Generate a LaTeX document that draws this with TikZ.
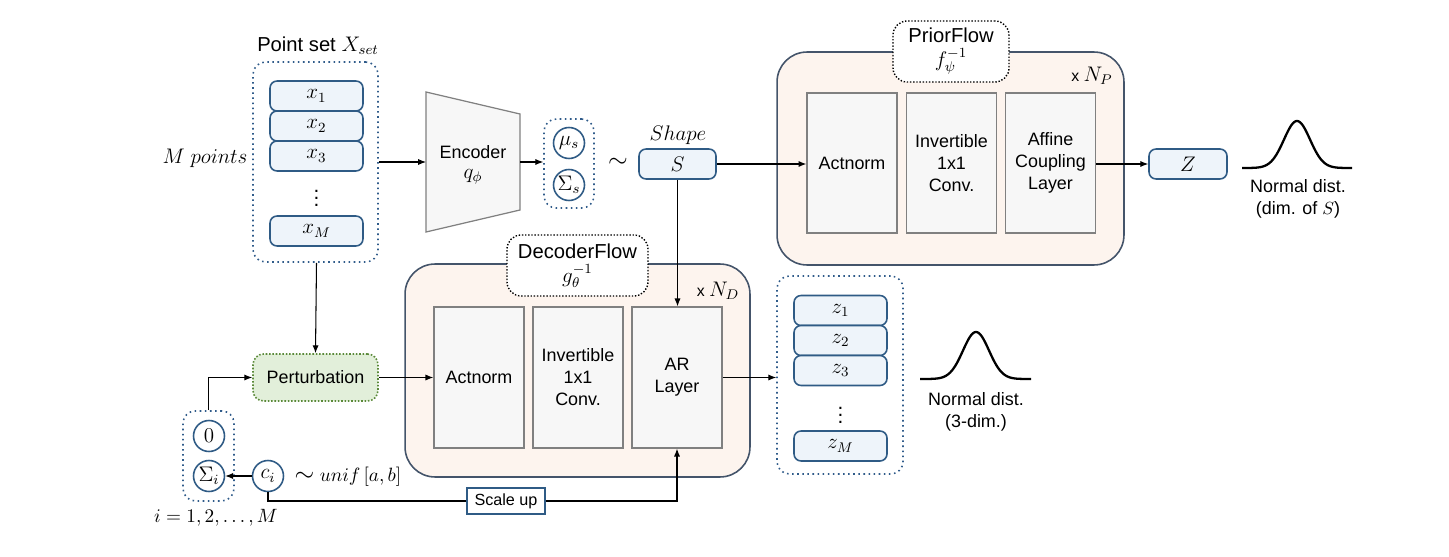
\documentclass[tikz,border=0pt]{standalone}
\usepackage{fontspec}
\setmainfont{Liberation Sans}
\usetikzlibrary{arrows.meta,calc}

\definecolor{boxblue}{HTML}{2F5B85}
\definecolor{boxfill}{HTML}{EEF4FA}
\definecolor{dotblue}{HTML}{2F5B8A}
\definecolor{flowedge}{HTML}{44546A}
\definecolor{flowfill}{HTML}{FDF4EE}
\definecolor{layeredge}{HTML}{808080}
\definecolor{layerfill}{HTML}{F7F7F7}
\definecolor{pertfill}{HTML}{E2EFDA}
\definecolor{pertedge}{HTML}{5B8A3A}

\newcommand\diagfont{\fontsize{10.2pt}{12.5pt}\selectfont}
\newcommand\tagfont{\fontsize{11.5pt}{14.5pt}\selectfont}
\newcommand\symfont{\fontsize{11.8pt}{13pt}\selectfont}

\tikzset{
    vecbox/.style={draw=boxblue, fill=boxfill, rounded corners=4pt, line width=0.9pt,
        minimum width=1.86cm, minimum height=0.6cm, inner sep=0pt, font=\symfont},
    varcirc/.style={circle, draw=boxblue, line width=0.9pt, minimum size=0.62cm, inner sep=0pt,
        font=\symfont},
    dotbox/.style={draw=dotblue, dotted, line width=0.9pt, rounded corners=7pt, inner sep=0pt},
    flowbox/.style={draw=flowedge, fill=flowfill, line width=0.9pt, rounded corners=0.6cm,
        minimum height=4.26cm, inner sep=0pt},
    layerbox/.style={draw=layeredge, fill=layerfill, line width=0.7pt, align=center,
        minimum width=1.8cm, minimum height=2.82cm, inner sep=0pt},
    flowtag/.style={draw, densely dotted, fill=white, rounded corners=8pt, line width=0.8pt,
        align=center, minimum height=1.22cm, inner sep=0pt, font=\tagfont},
    arr/.style={-{Latex[length=4.5pt,width=3.5pt]}, line width=0.6pt},
    gauss/.style={line width=1.3pt},
}

\begin{document}
\begin{tikzpicture}[x=0.02cm, y=-0.02cm, every node/.append style={font=\diagfont}]
    \useasboundingbox (0,0) rectangle (1449,557);

    % point set
    \node[font=\tagfont] (xtitle) at (318,46) {Point set {\symfont$X_{set}$}};
    \node[dotbox, minimum width=2.5cm, minimum height=4cm] (xset) at (315.5,162) {};
    \node[vecbox] (x1) at (316.5,96) {$x_1$};
    \node[vecbox] (x2) at (316.5,126) {$x_2$};
    \node[vecbox] (x3) at (316.5,156) {$x_3$};
    \node[inner sep=0pt, font=\symfont] (xdots) at (316.5,193) {$\vdots$};
    \node[vecbox] (xM) at (316.5,231) {$x_M$};
    \node[font=\symfont] (mpts) at (205,158) {$M\ points$};

    % encoder
    \draw[draw=layeredge, fill=layerfill, line width=0.7pt]
        (426,92) -- (520,114) -- (520,210) -- (426,232) -- cycle;
    \coordinate (enc-w) at (426,162);
    \coordinate (enc-e) at (520,162);
    \node (enc) at (473,152) {Encoder};
    \node[font=\symfont] (qphi) at (473,177) {$q_{\phi}$};

    \node[dotbox, minimum width=1cm, minimum height=1.78cm] (musig) at (569,163.5) {};
    \node[varcirc] (mus) at (569,143) {$\mu_s$};
    \node[varcirc] (sigs) at (569,185) {$\Sigma_s$};
    \node (tilde) at (618,163) {\Large$\sim$};

    \node[font=\symfont] (shape) at (678,135) {$Shape$};
    \node[vecbox, minimum width=1.54cm] (S) at (677.5,164) {$S$};

    % prior flow
    \node[flowbox, minimum width=6.94cm] (prior) at (950.5,158.5) {};
    \node[flowtag, minimum width=2.32cm] (priortag) at (951,51.5) {PriorFlow\\[-1pt]{\symfont$f_{\psi}^{-1}$}};
    \node[font=\fontsize{9pt}{10pt}\selectfont] (np) at (1092,76) {x {\symfont$N_P$}};
    \node[layerbox, minimum height=2.8cm] (pa) at (852,163) {Actnorm};
    \node[layerbox, minimum height=2.8cm] (pb) at (951.5,163) {Invertible\\1x1\\Conv.};
    \node[layerbox, minimum height=2.8cm] (pc) at (1050.5,163) {Affine\\Coupling\\Layer};
    \node[vecbox, minimum width=1.56cm] (Z) at (1188,164) {$Z$};
    \draw[gauss] plot[domain=1242:1352, samples=90] (\x, {168-47*exp(-((\x-1297)/13)^2/2)});
    \node[align=center] (normS) at (1298,199) {Normal dist.\\(dim. of $S$)};

    % decoder flow
    \node[flowbox, minimum width=6.9cm] (dec) at (577.5,370.5) {};
    \node[flowtag, minimum width=2.82cm] (dectag) at (577.5,265.5) {DecoderFlow\\[-1pt]{\symfont$g_{\theta}^{-1}$}};
    \node[font=\fontsize{9pt}{10pt}\selectfont] (nd) at (718,291) {x {\symfont$N_D$}};
    \node[layerbox] (da) at (479,377.5) {Actnorm};
    \node[layerbox] (db) at (578,377.5) {Invertible\\1x1\\Conv.};
    \node[layerbox] (dar) at (677,377.5) {AR\\Layer};

    \node[dotbox, minimum width=2.52cm, minimum height=3.96cm] (zset) at (840,375) {};
    \node[vecbox] (z1) at (840.5,310.5) {$z_1$};
    \node[vecbox] (z2) at (840.5,340.5) {$z_2$};
    \node[vecbox] (z3) at (840.5,370.5) {$z_3$};
    \node[inner sep=0pt, font=\symfont] (zdots) at (840.5,410) {$\vdots$};
    \node[vecbox] (zM) at (840.5,446) {$z_M$};
    \draw[gauss] plot[domain=920:1031, samples=90] (\x, {379-47*exp(-((\x-976)/13)^2/2)});
    \node[align=center] (norm3) at (976,411.5) {Normal dist.\\(3-dim.)};

    % perturbation
    \node[draw=pertedge, densely dotted, fill=pertfill, line width=0.9pt, rounded corners=6pt,
        minimum width=2.5cm, minimum height=0.94cm] (pert) at (315.5,377.5) {Perturbation};
    \node[dotbox, minimum width=1.02cm, minimum height=1.8cm] (noise) at (208.5,456) {};
    \node[varcirc] (zero) at (209,436) {$0$};
    \node[varcirc] (sigi) at (209,476) {$\Sigma_i$};
    \node[varcirc] (ci) at (268,476) {$c_i$};
    \node[font=\fontsize{11pt}{13pt}\selectfont] (unif) at (348,477) {{\Large$\sim$}\ $unif\,[a,b]$};
    \node[font=\fontsize{10.5pt}{12pt}\selectfont] (idx) at (216,518) {$i=1,2,\ldots,M$};
    \node[draw=boxblue, fill=white, line width=0.8pt, minimum width=1.56cm, minimum height=0.52cm,
        inner sep=0pt, font=\fontsize{9.2pt}{11pt}\selectfont] (scale) at (506,501) {Scale up};

    % connectors
    \draw[arr] (xset.east |- enc-w) -- (enc-w);
    \draw[arr] (enc-e) -- (enc-e -| musig.west);
    \draw[arr] (S.east) -- (S.east -| pa.west);
    \draw[arr] (S.south) -- (S.south |- dar.north);
    \draw[arr] (pc.east |- Z) -- (Z.west);
    \draw[arr] (xset.south -| x1) -- (pert.north);
    \draw[arr] (pert.east) -- (da.west);
    \draw[arr] (noise.north) |- (pert.west);
    \draw[arr] (ci.west) -- (sigi.east);
    \draw[line width=0.6pt] (ci.south) |- (scale.west);
    \draw[arr] (scale.east) -| (dar.south);
    \draw[arr] (dar.east) -- (dar.east -| zset.west);

\end{tikzpicture}
\end{document}
